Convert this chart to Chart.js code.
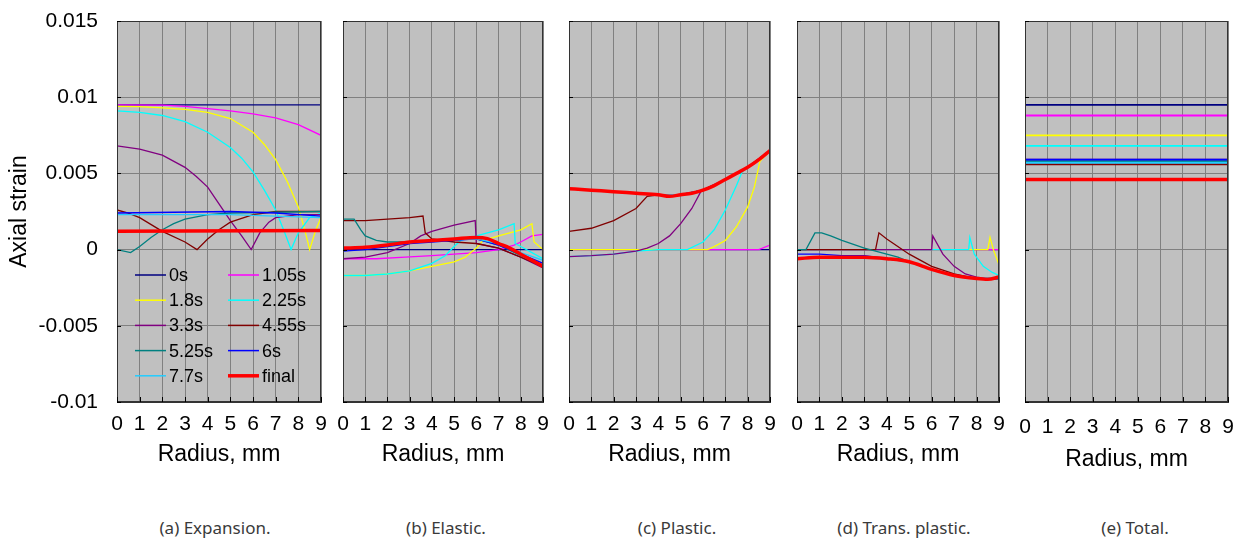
<!DOCTYPE html>
<html>
<head>
<meta charset="utf-8">
<script src="https://cdn.jsdelivr.net/npm/chart.js@4.4.1/dist/chart.umd.min.js"></script>
<style>
body {margin: 0; background: #fff; width: 1242px; height: 542px; position: relative; overflow: hidden;}
canvas {position: absolute; top: 0;}
.cap {position: absolute; top: 516px; font: 17px "Noto Sans", sans-serif; color: #3a3a3a; transform: translateX(-50%); white-space: nowrap;}
</style>
</head>
<body>
<canvas id="pa" width="330" height="480" style="left:0px"></canvas>
<canvas id="pb" width="220" height="480" style="left:333px"></canvas>
<canvas id="pc" width="221" height="480" style="left:559px"></canvas>
<canvas id="pd" width="222" height="480" style="left:787px"></canvas>
<canvas id="pe" width="223" height="480" style="left:1015px"></canvas>
<div class="cap" style="left:215px">(a) Expansion.</div>
<div class="cap" style="left:446px">(b) Elastic.</div>
<div class="cap" style="left:677px">(c) Plastic.</div>
<div class="cap" style="left:904px">(d) Trans. plastic.</div>
<div class="cap" style="left:1135px">(e) Total.</div>
<script>
// series shared by all five panels
const seriesLabels = ['0s', '1.05s', '1.8s', '2.25s', '3.3s', '4.55s', '5.25s', '6s', '7.7s', 'final'];
const seriesColors = ['#000080', '#ff00ff', '#ffff00', '#00ffff', '#800080', '#800000', '#008080', '#0000ff', '#22ccff', '#ff0000'];
const yTickLabels = ['-0.01', '-0.005', '0', '0.005', '0.01', '0.015'];
const xTickLabels = ['0', '1', '2', '3', '4', '5', '6', '7', '8', '9'];

// [radius mm, axial strain] per series, same order as seriesLabels
const expansion = [
    [[0, 0.0095], [9, 0.0095]],
    [[0, 0.0095], [2, 0.00948], [3, 0.0094], [4, 0.00925], [5, 0.0091], [6, 0.0089], [7, 0.00865], [8, 0.0082], [9, 0.0075]],
    [[0, 0.0094], [1, 0.00938], [2, 0.0093], [3, 0.0092], [4, 0.009], [5, 0.0086], [6, 0.0077], [6.5, 0.0069], [7, 0.0059], [7.5, 0.0045], [8, 0.0028], [8.3, 0.0012], [8.5, 0], [8.75, 0.0012], [9, 0.0021]],
    [[0, 0.0091], [1, 0.009], [2, 0.0088], [3, 0.0084], [4, 0.0077], [5, 0.0067], [5.5, 0.006], [6, 0.0051], [6.5, 0.0039], [7, 0.0026], [7.4, 0.0011], [7.68, 0], [8, 0.0011], [8.5, 0.0021], [9, 0.0024]],
    [[0, 0.0068], [1, 0.0066], [2, 0.0062], [3, 0.0054], [3.5, 0.0048], [4, 0.0041], [4.5, 0.003], [5, 0.0019], [5.5, 0.0009], [5.92, 0], [6.3, 0.0011], [6.7, 0.0018], [7, 0.0021], [8, 0.0023], [9, 0.0023]],
    [[0, 0.0026], [0.5, 0.0024], [1, 0.0021], [2, 0.0012], [3, 0.0005], [3.53, 0], [4, 0.0007], [4.5, 0.0013], [5, 0.0018], [6, 0.0023], [7, 0.0025], [9, 0.0025]],
    [[0, 0], [0.6, -0.0002], [1, 0.0002], [1.5, 0.0008], [2, 0.0013], [2.5, 0.0017], [3, 0.002], [4, 0.0023], [5, 0.0024], [9, 0.0025]],
    [[0, 0.0024], [5, 0.0025], [7, 0.0024], [9, 0.0022]],
    [[0, 0.0023], [5, 0.0023], [7, 0.0022], [9, 0.0021]],
    [[0, 0.0012], [9, 0.00125]]
];

const elastic = [
    [[0, 0], [9, 0]],
    [[0, -0.0006], [1.5, -0.0006], [2.8, -0.0005], [4, -0.0004], [5, -0.0003], [6, -0.0002], [7, 0], [7.7, 0.0003], [8, 0.0005], [8.5, 0.0009], [9, 0.001]],
    [[0, -0.0017], [1, -0.0017], [2, -0.0016], [3, -0.0014], [4, -0.0011], [5, -0.0008], [5.5, -0.0005], [6, 0.0001], [6.3, 0.0006], [7, 0.0009], [8, 0.0013], [8.5, 0.0017], [8.6, 0.0005], [9, 0]],
    [[0, -0.0017], [1, -0.0017], [2, -0.0016], [3, -0.0014], [4, -0.0009], [4.6, -0.0004], [5, 0.0002], [5.3, 0.0006], [6, 0.0009], [7, 0.0013], [7.7, 0.0017], [7.75, 0.0004], [8, 0.0002], [8.5, -0.0002], [9, -0.0006]],
    [[0, -0.0006], [1, -0.0005], [2, -0.0002], [3, 0.0004], [3.5, 0.0009], [4, 0.0012], [5, 0.0016], [5.95, 0.0019], [6, 0.0004], [7, 0.0001], [8, -0.0005], [9, -0.0012]],
    [[0, 0.0019], [1, 0.0019], [2, 0.002], [3, 0.0021], [3.6, 0.0022], [3.7, 0.0011], [4, 0.0007], [5, 0.0005], [6, 0.0004], [7, 0.0001], [8, -0.0005], [9, -0.0011]],
    [[0, 0.002], [0.5, 0.002], [0.8, 0.0013], [1, 0.0009], [1.5, 0.0006], [2, 0.0005], [3, 0.0005], [4, 0.0006], [5, 0.0007], [6, 0.0007], [7, 0.0003], [8, -0.0004], [9, -0.0011]],
    [[0, -0.0001], [1, 0], [2, 0.0002], [3, 0.0004], [4, 0.0005], [5, 0.0006], [6, 0.0007], [7, 0.0003], [8, -0.0003], [9, -0.0009]],
    [[0, 0.0001], [2, 0.0003], [4, 0.0006], [6, 0.0007], [7, 0.0004], [8, -0.0002], [9, -0.0007]],
    [[0, 0.0001], [1, 0.00015], [2, 0.0003], [3, 0.0005], [4, 0.0006], [5, 0.0007], [6, 0.0008], [6.5, 0.00072], [7, 0.0004], [7.5, 0.0001], [8, -0.0003], [8.5, -0.0007], [9, -0.0011]]
];

const plastic = [
    [[0, 0], [9, 0]],
    [[0, 0], [8.5, 0], [9, 0.0003]],
    [[0, 0], [6.2, 0], [6.5, 0.0002], [7, 0.0006], [7.5, 0.0015], [8, 0.0028], [8.3, 0.0041], [8.55, 0.0058], [9, 0.0065]],
    [[0, -0.00046], [1, -0.0004], [2, -0.0003], [3, -0.0001], [4, 0], [5.3, 0], [6, 0.0005], [6.5, 0.0013], [7, 0.0026], [7.5, 0.0042], [7.75, 0.0051], [8, 0.0054], [9, 0.0065]],
    [[0, -0.00046], [1, -0.0004], [2, -0.0003], [3, -0.0001], [3.5, 0.0001], [4, 0.0004], [4.5, 0.0009], [5, 0.0017], [5.5, 0.0027], [5.9, 0.0038], [6, 0.0039], [7, 0.0046], [8, 0.0054], [9, 0.0065]],
    [[0, 0.0012], [1, 0.0014], [2, 0.0019], [3, 0.0027], [3.5, 0.0035], [4, 0.0036], [5, 0.0036], [6, 0.0039], [7, 0.0046], [8, 0.0054], [9, 0.0065]],
    [[0, 0.004], [2, 0.0038], [4, 0.0036], [5, 0.0036], [6, 0.0039], [7, 0.0046], [8, 0.0054], [9, 0.0065]],
    [[0, 0.004], [2, 0.0038], [4, 0.0036], [5, 0.0036], [6, 0.0039], [7, 0.0046], [8, 0.0054], [9, 0.0065]],
    [[0, 0.004], [2, 0.0038], [4, 0.0036], [5, 0.0036], [6, 0.0039], [7, 0.0046], [8, 0.0054], [9, 0.0065]],
    [[0, 0.004], [1, 0.0039], [2, 0.0038], [3, 0.0037], [4, 0.0036], [4.5, 0.0035], [5, 0.0036], [5.5, 0.0037], [6, 0.0039], [6.5, 0.0042], [7, 0.0046], [7.5, 0.005], [8, 0.0054], [8.5, 0.0059], [9, 0.0065]]
];

const transPlastic = [
    [[0, 0], [9, 0]],
    [[0, 0], [9, 0]],
    [[0, 0], [8.5, 0], [8.6, 0.0008], [8.75, 0], [9, -0.001]],
    [[0, 0], [7.65, 0], [7.7, 0.0008], [7.9, -0.0003], [8.3, -0.0011], [8.7, -0.0015], [9, -0.0017]],
    [[0, 0], [6, 0], [6.05, 0.0009], [6.5, -0.0003], [7, -0.0011], [7.5, -0.0016], [8, -0.0018], [8.5, -0.0019], [9, -0.0019]],
    [[0, 0], [3.5, 0], [3.65, 0.0011], [4, 0.0007], [5, -0.0003], [6, -0.0011], [7, -0.0016], [8, -0.0019], [9, -0.0019]],
    [[0, 0], [0.4, 0], [0.8, 0.0011], [1.1, 0.0011], [1.5, 0.0009], [2, 0.0006], [3, 0.0001], [4, -0.0003], [4.5, -0.0005], [5, -0.0008], [6, -0.0013], [7, -0.0017], [8, -0.0019], [9, -0.0019]],
    [[0, -0.0003], [1, -0.0003], [2, -0.0004], [3, -0.0004], [4, -0.0006], [5, -0.0008], [6, -0.0013], [7, -0.0017], [8, -0.0019], [9, -0.0019]],
    [[0, -0.0006], [2, -0.0005], [4, -0.0006], [5, -0.0008], [6, -0.0013], [7, -0.0017], [8, -0.0019], [9, -0.0018]],
    [[0, -0.0006], [1, -0.0005], [2, -0.0005], [3, -0.0005], [4, -0.0006], [5, -0.0008], [6, -0.0013], [7, -0.0017], [8, -0.0019], [8.5, -0.00195], [9, -0.0018]]
];

// total strain is flat along the radius
const totalLevels = [0.0095, 0.0088, 0.0075, 0.0068, 0.0059, 0.0056, 0.0058, 0.0059, 0.0057, 0.0046];
const total = totalLevels.map(v => [[0, v], [9, v]]);


Chart.defaults.font.family = '"Liberation Sans", Arial, sans-serif';
Chart.defaults.color = '#000';

const plotFrame = {
    id: 'plotFrame',
    beforeDraw(chart) {
        const {ctx, chartArea: a} = chart;
        ctx.save();
        ctx.fillStyle = '#c0c0c0';
        ctx.fillRect(a.left, a.top, a.right - a.left, a.bottom - a.top);
        ctx.restore();
    },
    afterDraw(chart) {
        const {ctx, chartArea: a, scales} = chart;
        ctx.save();
        ctx.strokeStyle = '#333';
        ctx.lineWidth = 1;
        ctx.strokeRect(a.left + 0.5, a.top + 0.5, a.right - a.left - 1, a.bottom - a.top - 1);
        ctx.strokeStyle = '#000';
        ctx.beginPath();
        scales.y.ticks.forEach(t => {
            const y = Math.round(scales.y.getPixelForValue(t.value)) + 0.5;
            ctx.moveTo(a.left, y); ctx.lineTo(a.left + 4, y);
        });
        scales.x.ticks.forEach(t => {
            const x = Math.round(scales.x.getPixelForValue(t.value)) + 0.5;
            ctx.moveTo(x, a.bottom); ctx.lineTo(x, a.bottom - 5);
        });
        ctx.stroke();
        ctx.restore();
    }
};

const insideLegend = {
    id: 'insideLegend',
    afterDatasetsDraw(chart, args, opts) {
        if (!opts.show) return;
        const {ctx, chartArea: a} = chart;
        ctx.save();
        ctx.font = '18px "Liberation Sans", Arial, sans-serif';
        ctx.textBaseline = 'middle';
        ctx.fillStyle = '#000';
        chart.data.datasets.forEach((ds, i) => {
            const col = i % 2, row = Math.floor(i / 2);
            const x = a.left + 18 + col * 93;
            const y = a.top + 254 + row * 25.2;
            ctx.strokeStyle = ds.borderColor;
            ctx.lineWidth = ds.label === 'final' ? 3.5 : 1.5;
            ctx.beginPath();
            ctx.moveTo(x, y); ctx.lineTo(x + 31, y);
            ctx.stroke();
            ctx.fillText(ds.label, x + 34, y + 1);
        });
        ctx.restore();
    }
};

function makePanel(id, series, o) {
    const datasets = series.map((pts, i) => {
        const isFinal = seriesLabels[i] === 'final';
        return {
            label: seriesLabels[i],
            data: pts.map(p => ({x: p[0], y: p[1]})),
            borderColor: seriesColors[i],
            borderWidth: isFinal ? 3.5 : o.lineW,
            pointRadius: 0,
            // the final curve is smooth everywhere, the others have kinks
            cubicInterpolationMode: isFinal ? 'monotone' : 'default',
            tension: 0,
            order: seriesLabels.length - i
        };
    });
    return new Chart(document.getElementById(id), {
        type: 'line',
        data: {datasets: datasets},
        plugins: [plotFrame, insideLegend],
        options: {
            responsive: false,
            animation: false,
            events: [],
            layout: {padding: {left: 0, right: o.padRight, top: 21, bottom: 0}},
            plugins: {
                legend: {display: false},
                tooltip: {enabled: false},
                insideLegend: {show: !!o.legend}
            },
            scales: {
                x: {
                    type: 'linear', min: 0, max: 9,
                    afterFit: s => { s.height = 78; },
                    // the tick length stands in for label padding, so it adds no side padding
                    grid: {color: '#808080', drawTicks: true, tickLength: o.tickPad, tickColor: 'rgba(0,0,0,0)'},
                    border: {color: '#333'},
                    ticks: {
                        stepSize: 1, autoSkip: false, maxRotation: 0,
                        padding: 0,
                        font: {size: 21},
                        callback: (v, i) => xTickLabels[i]
                    },
                    title: {display: true, text: 'Radius, mm', font: {size: 23}, padding: {top: 0, bottom: o.titlePad}}
                },
                y: {
                    type: 'linear', min: -0.01, max: 0.015,
                    afterFit: s => { s.width = o.yW; },
                    grid: {color: '#808080', drawTicks: true, tickLength: 19, tickColor: 'rgba(0,0,0,0)'},
                    border: {color: '#333'},
                    ticks: {
                        display: o.showY, stepSize: 0.005, padding: 0,
                        font: {size: 21},
                        callback: (v, i) => yTickLabels[i]
                    },
                    title: {display: o.showY, text: 'Axial strain', font: {size: 23}, padding: {top: 6, bottom: 0}}
                }
            }
        }
    });
}

makePanel('pa', expansion, {yW: 117, padRight: 9, showY: true, legend: true, lineW: 1.3, tickPad: 10, titlePad: 12});
makePanel('pb', elastic, {yW: 10, padRight: 10, showY: false, lineW: 1.3, tickPad: 10, titlePad: 12});
makePanel('pc', plastic, {yW: 10, padRight: 10, showY: false, lineW: 1.3, tickPad: 10, titlePad: 12});
makePanel('pd', transPlastic, {yW: 10, padRight: 10, showY: false, lineW: 1.3, tickPad: 10, titlePad: 12});
makePanel('pe', total, {yW: 10, padRight: 10, showY: false, lineW: 1.8, tickPad: 13, titlePad: 7});
</script>
</body>
</html>
